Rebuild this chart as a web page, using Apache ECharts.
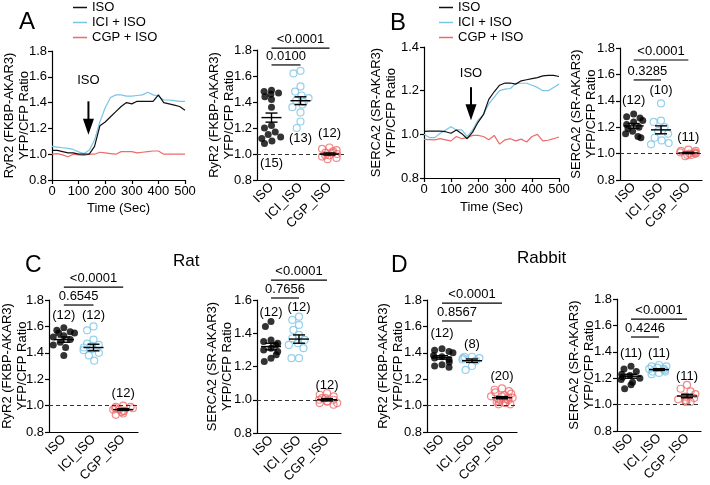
<!DOCTYPE html>
<html>
<head>
<meta charset="utf-8">
<script src="https://cdn.jsdelivr.net/npm/echarts@6.0.0/dist/echarts.min.js"></script>
<style>
html,body{margin:0;padding:0;background:#fff;}
#chart{width:710px;height:485px;}
</style>
</head>
<body>
<div id="chart"></div>
<script>
// ---------- time traces ----------
const timeA = [0,20,40,60,80,100,120,140,160,180,200,220,240,260,280,300,320,340,360,380,400,420,440,460,480,500];
const isoTraceA = [1.03,1.03,1.02,1.01,1.01,1.00,1.00,1.00,1.06,1.22,1.25,1.29,1.33,1.37,1.40,1.39,1.41,1.41,1.41,1.41,1.46,1.40,1.39,1.38,1.37,1.34];
const iciTraceA = [1.06,1.055,1.05,1.045,1.037,1.018,1.005,1.03,1.11,1.25,1.36,1.44,1.46,1.46,1.45,1.45,1.455,1.46,1.48,1.46,1.45,1.42,1.42,1.415,1.41,1.41];
const cgpTraceA = [1.00,1.005,0.995,0.98,1.00,0.995,0.99,1.00,1.00,1.015,1.01,1.005,1.00,1.02,1.02,1.02,1.01,1.015,1.02,1.025,1.025,1.00,1.00,1.00,1.00,1.00];

const timeB = [0,20,40,60,80,100,120,140,160,180,200,220,240,260,280,300,320,340,360,380,400,420,440,460,480,500];
const isoTraceB = [1.014,1.015,1.015,1.015,1.012,1.005,1.02,1.003,0.98,1.01,1.055,1.09,1.16,1.195,1.225,1.235,1.235,1.23,1.245,1.25,1.255,1.26,1.268,1.27,1.27,1.265];
const iciTraceB = [1.00,0.985,0.985,1.005,1.02,1.035,1.02,1.02,0.99,1.02,1.065,1.09,1.14,1.17,1.20,1.207,1.21,1.234,1.234,1.234,1.225,1.215,1.20,1.20,1.215,1.23];
const cgpTraceB = [0.977,0.976,0.975,0.98,0.975,0.97,0.99,0.98,0.985,0.995,0.995,0.99,0.975,0.995,0.955,0.975,0.98,0.97,0.978,0.965,0.99,1.00,0.97,0.973,0.98,0.988];

const traceNames = ['ISO','ICI + ISO','CGP + ISO'];
const groups = ['ISO','ICI_ISO','CGP_ISO'];
const isoArrowA = [137, 1.41, 1.15, 1.575];   // time, arrow top, arrow tip, text level
const isoArrowB = [174, 1.216, 1.065, 1.28];

// ---------- A (right) RyR2 ----------
const A_iso = [1.49,1.48,1.47,1.46,1.44,1.42,1.36,1.22,1.20,1.17,1.15,1.13,1.12,1.10,1.08];
const A_ici = [1.64,1.62,1.52,1.48,1.45,1.43,1.41,1.40,1.38,1.36,1.32,1.25,1.20];
const A_cgp = [1.05,1.04,1.03,1.02,1.01,1.01,1.00,0.99,0.99,0.98,0.97,0.96];
const A_mean = [1.28,1.41,1.00];
const A_sem = [0.035,0.03,0.008];
const A_n = ['(15)','(13)','(12)'];
const A_nY = [0.93,1.12,1.16];
const A_p = ['<0.0001','0.0100'];
const A_pY = [1.815,1.685];

// ---------- B (right) SERCA2 ----------
const B_iso = [1.30,1.28,1.27,1.25,1.24,1.22,1.20,1.19,1.17,1.15,1.13,1.12];
const B_ici = [1.38,1.25,1.24,1.20,1.17,1.15,1.12,1.10,1.08,1.07];
const B_cgp = [1.03,1.02,1.02,1.01,1.01,1.00,1.00,1.00,0.99,0.99,0.98];
const B_mean = [1.21,1.18,1.005];
const B_sem = [0.018,0.03,0.005];
const B_n = ['(12)','(10)','(11)'];
const B_nY = [1.40,1.48,1.12];
const B_p = ['<0.0001','0.3285'];
const B_pY = [1.709,1.558];

// ---------- C Rat RyR2 ----------
const C1_iso = [1.59,1.57,1.56,1.55,1.55,1.53,1.52,1.50,1.48,1.46,1.44,1.38];
const C1_ici = [1.60,1.57,1.50,1.47,1.46,1.45,1.44,1.43,1.42,1.40,1.38,1.34];
const C1_cgp = [1.00,0.99,0.99,0.98,0.98,0.97,0.97,0.96,0.96,0.95,0.94,0.93];
const C1_mean = [1.50,1.44,0.97];
const C1_sem = [0.02,0.025,0.007];
const C1_n = ['(12)','(12)','(12)'];
const C1_nY = [1.68,1.68,1.095];
const C1_p = ['<0.0001','0.6545'];
const C1_pY = [1.898,1.762];

// ---------- C Rat SERCA2 ----------
const C2_iso = [1.47,1.44,1.36,1.35,1.34,1.33,1.31,1.30,1.29,1.27,1.25,1.23];
const C2_ici = [1.50,1.48,1.45,1.42,1.39,1.37,1.36,1.34,1.33,1.31,1.25,1.25];
const C2_cgp = [1.04,1.03,1.02,1.01,1.01,1.00,1.00,0.99,0.99,0.98,0.98,0.97];
const C2_mean = [1.32,1.365,1.00];
const C2_sem = [0.02,0.025,0.007];
const C2_n = ['(12)','(12)','(12)'];
const C2_nY = [1.528,1.558,1.089];
const C2_p = ['<0.0001','0.7656'];
const C2_pY = [1.72,1.612];

// ---------- D Rabbit RyR2 ----------
const D1_iso = [1.43,1.42,1.41,1.40,1.38,1.37,1.36,1.35,1.33,1.31,1.30,1.29];
const D1_ici = [1.37,1.37,1.36,1.36,1.35,1.34,1.30,1.27];
const D1_cgp = [1.13,1.12,1.11,1.10,1.09,1.08,1.07,1.07,1.06,1.06,1.05,1.05,1.04,1.04,1.03,1.03,1.02,1.02,1.01,1.01];
const D1_mean = [1.365,1.34,1.06];
const D1_sem = [0.013,0.013,0.008];
const D1_n = ['(12)','(8)','(20)'];
const D1_nY = [1.55,1.467,1.224];
const D1_p = ['<0.0001','0.8567'];
const D1_pY = [1.777,1.641];

// ---------- D Rabbit SERCA2 ----------
const D2_iso = [1.29,1.27,1.25,1.23,1.22,1.21,1.20,1.19,1.17,1.15,1.12];
const D2_ici = [1.30,1.29,1.29,1.28,1.27,1.27,1.26,1.25,1.25,1.24,1.23];
const D2_cgp = [1.15,1.12,1.10,1.08,1.06,1.05,1.04,1.03,1.03,1.02,1.02];
const D2_mean = [1.215,1.265,1.065];
const D2_sem = [0.015,0.007,0.013];
const D2_n = ['(11)','(11)','(11)'];
const D2_nY = [1.391,1.391,1.217];
const D2_p = ['<0.0001','0.4246'];
const D2_pY = [1.648,1.512];

// ---------- styling ----------
const FONT = '"Liberation Sans", Arial, Helvetica, sans-serif';
const BLACK = '#111111';
const BLUE = '#7cc4e6';
const RED = '#ee6b6b';
const RYR = 'RyR2 (FKBP-AKAR3)\nYFP/CFP Ratio';
const SERCA = 'SERCA2 (SR-AKAR3)\nYFP/CFP Ratio';

const grid = [], xAxis = [], yAxis = [], series = [];
const axLine = {lineStyle:{color:'#000', width:1.2}};
const axTick = {length:4, lineStyle:{color:'#000', width:1.2}};
const axLabel = {color:'#000', fontSize:13, fontFamily:FONT, margin:6};
const nameStyle = {color:'#000', fontSize:13, fontFamily:FONT, lineHeight:15};

function yAxisDef(gi, max, name, gap) {
  return {gridIndex:gi, type:'value', min:0.8, max:max, interval:0.2,
    axisLine:{show:true, ...axLine}, axisTick:{show:true, ...axTick},
    axisLabel:{...axLabel, margin:5, formatter: v => v.toFixed(1)}, splitLine:{show:false},
    name:name, nameLocation:'middle', nameRotate:90, nameGap:gap, nameMoveOverlap:false,
    nameTextStyle:nameStyle};
}

function addLinePanel(gi, box, t, traces, yMax, yName, yGap, xGap, arrow) {
  grid.push({left:box[0], top:box[1], width:box[2], height:box[3], containLabel:false, outerBoundsMode:'none'});
  xAxis.push({gridIndex:gi, type:'value', min:0, max:500, interval:100,
    axisLine:axLine, axisTick:axTick, axisLabel:{...axLabel, margin:5}, splitLine:{show:false},
    name:'Time (Sec)', nameLocation:'middle', nameGap:xGap, nameMoveOverlap:false, nameTextStyle:nameStyle});
  yAxis.push(yAxisDef(gi, yMax, yName, yGap));
  const cols = [BLACK, BLUE, RED];
  traces.forEach((vals, k) => {
    series.push({type:'line', name:traceNames[k], xAxisIndex:gi, yAxisIndex:gi, showSymbol:false, symbol:'none',
      data: t.map((x, i) => [x, vals[i]]), lineStyle:{color:cols[k], width:1.2}, itemStyle:{color:cols[k]},
      z: 3 - k, silent:true});
  });
  series.push({type:'custom', xAxisIndex:gi, yAxisIndex:gi, silent:true, z:10,
    encode:{x:0, y:1}, data:[arrow],
    renderItem:(params, api) => {
      const top = api.coord([api.value(0), api.value(1)]);
      const tip = api.coord([api.value(0), api.value(2)]);
      const txt = api.coord([api.value(0), api.value(3)]);
      const hh = 16, hw = 5.5;
      return {type:'group', children:[
        {type:'line', shape:{x1:top[0], y1:top[1], x2:tip[0], y2:tip[1]-hh+2}, style:{stroke:'#000', lineWidth:2}},
        {type:'polygon', shape:{points:[[tip[0]-hw, tip[1]-hh],[tip[0]+hw, tip[1]-hh],[tip[0], tip[1]]]}, style:{fill:'#000'}},
        {type:'text', x:txt[0], y:txt[1], style:{text:'ISO', fill:'#000', font:'13px ' + FONT, align:'center', verticalAlign:'middle'}}
      ]};
    }});
}

function addScatterPanel(gi, box, yMax, yName, yGap, pts, mean, sem, nLab, nY, pLab, pY) {
  grid.push({left:box[0], top:box[1], width:box[2], height:box[3], containLabel:false, outerBoundsMode:'none'});
  xAxis.push({gridIndex:gi, type:'category', data:groups, jitter:22, jitterOverlap:false, jitterMargin:0.5,
    axisLine:axLine, axisTick:{alignWithLabel:true, ...axTick},
    axisLabel:{...axLabel, rotate:45, interval:0, margin:5}, splitLine:{show:false}});
  yAxis.push(yAxisDef(gi, yMax, yName, yGap));
  const ax = {xAxisIndex:gi, yAxisIndex:gi};
  const looks = [
    {itemStyle:{color:'#000'}},
    {itemStyle:{color:'rgba(255,255,255,0)', borderColor:BLUE, borderWidth:1.2}},
    {itemStyle:{color:'rgba(255,255,255,0)', borderColor:RED, borderWidth:1.2}}
  ];
  pts.forEach((arr, k) => {
    const s = {type:'scatter', ...ax, symbol:'circle', symbolSize:7, silent:true, z:4,
      data: arr.map(v => [groups[k], v]), ...looks[k]};
    if (k === 2) {
      s.markLine = {silent:true, symbol:'none', label:{show:false}, animation:false,
        lineStyle:{type:[4,3], color:'#333', width:1}, data:[{yAxis:1}]};
    }
    series.push(s);
  });
  series.push({type:'custom', ...ax, silent:true, z:6, encode:{x:0, y:1},
    data: mean.map((m, i) => [i, m, sem[i]]),
    renderItem:(params, api) => {
      const c = api.coord([api.value(0), api.value(1)]);
      const t = api.coord([api.value(0), api.value(1) + api.value(2)]);
      const b = api.coord([api.value(0), api.value(1) - api.value(2)]);
      const st = {stroke:'#000', lineWidth:1.4};
      return {type:'group', children:[
        {type:'line', shape:{x1:c[0]-10, y1:c[1], x2:c[0]+10, y2:c[1]}, style:st},
        {type:'line', shape:{x1:c[0], y1:t[1], x2:c[0], y2:b[1]}, style:st},
        {type:'line', shape:{x1:c[0]-6, y1:t[1], x2:c[0]+6, y2:t[1]}, style:st},
        {type:'line', shape:{x1:c[0]-6, y1:b[1], x2:c[0]+6, y2:b[1]}, style:st}
      ]};
    }});
  series.push({type:'custom', ...ax, silent:true, z:6, encode:{x:0, y:2},
    data: [[0, 2, pY[0]], [0, 1, pY[1]]],
    renderItem:(params, api) => {
      const a = api.coord([api.value(0), api.value(2)]);
      const b = api.coord([api.value(1), api.value(2)]);
      return {type:'group', children:[
        {type:'line', shape:{x1:a[0], y1:a[1], x2:b[0], y2:b[1]}, style:{stroke:'#000', lineWidth:1.2}},
        {type:'text', x:(a[0]+b[0])/2, y:a[1]-2, style:{text:pLab[params.dataIndex], fill:'#000',
          font:'13px ' + FONT, align:'center', verticalAlign:'bottom'}}
      ]};
    }});
  series.push({type:'custom', ...ax, silent:true, z:6, encode:{x:0, y:1},
    data: nY.map((v, i) => [i, v]),
    renderItem:(params, api) => {
      const p = api.coord([api.value(0), api.value(1)]);
      return {type:'text', x:p[0], y:p[1], style:{text:nLab[params.dataIndex], fill:'#000',
        font:'13px ' + FONT, align:'center', verticalAlign:'middle'}};
    }});
}

addLinePanel(0, [52, 51, 133, 129], timeA, [isoTraceA, iciTraceA, cgpTraceA], 1.8, RYR, 20, 21, isoArrowA);
addLinePanel(1, [424, 47, 135, 131], timeB, [isoTraceB, iciTraceB, cgpTraceB], 1.4, SERCA, 25, 22, isoArrowB);
addScatterPanel(2, [257, 50, 87, 130], 1.8, RYR, 20, [A_iso, A_ici, A_cgp], A_mean, A_sem, A_n, A_nY, A_p, A_pY);
addScatterPanel(3, [620, 48, 82, 132], 1.8, SERCA, 21, [B_iso, B_ici, B_cgp], B_mean, B_sem, B_n, B_nY, B_p, B_pY);
addScatterPanel(4, [49, 300, 89, 132], 1.8, RYR, 19, [C1_iso, C1_ici, C1_cgp], C1_mean, C1_sem, C1_n, C1_nY, C1_p, C1_pY);
addScatterPanel(5, [257, 300, 84, 133], 1.6, SERCA, 22, [C2_iso, C2_ici, C2_cgp], C2_mean, C2_sem, C2_n, C2_nY, C2_p, C2_pY);
addScatterPanel(6, [427, 300, 90, 132], 1.8, RYR, 21, [D1_iso, D1_ici, D1_cgp], D1_mean, D1_sem, D1_n, D1_nY, D1_p, D1_pY);
addScatterPanel(7, [617, 299, 84, 132], 1.8, SERCA, 20, [D2_iso, D2_ici, D2_cgp], D2_mean, D2_sem, D2_n, D2_nY, D2_p, D2_pY);

const legendBase = {data:traceNames, orient:'vertical', icon:'rect', itemWidth:14, itemHeight:1.5, itemGap:0,
  padding:0, selectedMode:false, textStyle:{color:'#000', fontSize:13, fontFamily:FONT, lineHeight:15}};

const titleStyle = (s) => ({color:'#000', fontSize:s, fontWeight:'normal', fontFamily:FONT});
const option = {
  animation:false,
  backgroundColor:'#fff',
  textStyle:{fontFamily:FONT},
  title:[
    {text:'A', left:19, top:10, padding:0, textStyle:titleStyle(24)},
    {text:'B', left:390, top:11, padding:0, textStyle:titleStyle(24)},
    {text:'C', left:25, top:254, padding:0, textStyle:titleStyle(23)},
    {text:'D', left:391, top:254, padding:0, textStyle:titleStyle(23)},
    {text:'Rat', left:173, top:253, padding:0, textStyle:titleStyle(17)},
    {text:'Rabbit', left:517, top:250, padding:0, textStyle:titleStyle(17)}
  ],
  legend:[
    {...legendBase, left:73, top:0},
    {...legendBase, left:439, top:0}
  ],
  grid, xAxis, yAxis, series
};

const chart = echarts.init(document.getElementById('chart'), null, {renderer:'canvas'});
chart.setOption(option);
</script>
</body>
</html>
